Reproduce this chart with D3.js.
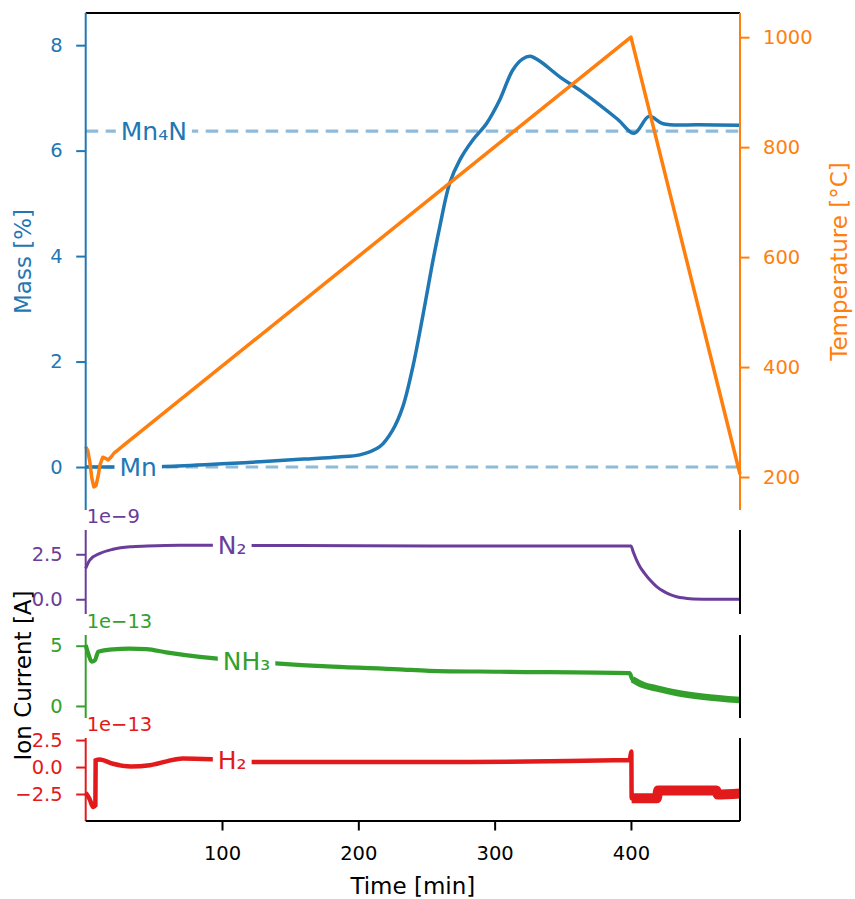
<!DOCTYPE html>
<html>
<head>
  <meta charset="utf-8">
  <title>TGA-MS Mn nitridation</title>
  <script src="https://cdn.jsdelivr.net/npm/d3@7"></script>
  <style>
    body { margin: 0; background: #fff; }
    text { font-family: "DejaVu Sans", sans-serif; }
  </style>
</head>
<body>
<script>
// ---- data ----
const timeTicks = [100, 200, 300, 400];

const massTime = [0, 30, 58, 100, 128, 160, 185, 201, 215.7, 225.2, 232.6, 240, 247.2, 253.9, 259.7, 267, 274.4, 284, 294.2, 303.7, 313.3, 320.6, 326, 333, 347.8, 365, 390, 402.3, 413.3, 423.6, 450, 480];
const massPct  = [0, 0, 0.01, 0.06, 0.10, 0.15, 0.19, 0.23, 0.385, 0.70, 1.14, 1.90, 2.85, 3.80, 4.55, 5.38, 5.82, 6.2, 6.52, 6.96, 7.53, 7.74, 7.79, 7.7, 7.4, 7.1, 6.6, 6.33, 6.65, 6.51, 6.49, 6.48];
const massTicks = [0, 2, 4, 6, 8];

const tempTime = [0, 1.5, 3, 4.5, 6, 7.5, 9, 10.5, 12.5, 14.5, 16.5, 18.5, 21, 24, 27.5, 400, 480];
const tempC    = [255, 248, 228, 198, 182, 184, 200, 222, 236, 234, 231, 236, 244, 250, 257, 1000, 205];
const tempTicks = [200, 400, 600, 800, 1000];

// reference phases (mass gain %)
const phaseNames = ["Mn\u2084N", "Mn"];
const phaseMass  = [6.37, 0];
const phaseLabelTime = [50, 38.5];

// ion currents
const n2Time = [0, 3, 10.5, 20, 32.5, 45, 69, 100, 200, 300, 399, 400, 401.6, 403.9, 406.6, 410, 414, 418.6, 423.7, 428.4, 433.5, 440, 445.7, 460, 480];
const n2Val  = [1.72, 2.18, 2.55, 2.78, 2.92, 2.96, 3.0, 3.0, 2.97, 2.96, 2.96, 2.96, 2.65, 2.22, 1.81, 1.44, 1.07, 0.72, 0.45, 0.27, 0.14, 0.06, 0.02, 0.0, 0.0];
const n2Ticks = [0, 2.5];
const n2TickLabels = ["0.0", "2.5"];

const nh3Time = [0, 1.9, 4.4, 6.8, 9.2, 20, 32, 44.5, 59, 83.6, 93, 137, 181, 230, 252, 304, 399, 401, 409, 418.6, 433, 453, 480];
const nh3Val  = [5.05, 4.33, 3.67, 3.8, 4.5, 4.7, 4.76, 4.72, 4.45, 4.08, 3.97, 3.56, 3.26, 3.04, 2.92, 2.84, 2.72, 2.21, 1.74, 1.46, 1.1, 0.77, 0.5];
const nh3Ticks = [0, 5];
const nh3TickLabels = ["0", "5"];

const h2Time = [0, 3, 5.4, 7.1, 7.3, 10.3, 20, 33, 47, 60, 71, 92.6, 123, 252, 399, 400.3, 400.5, 419, 420, 462.7, 463.6, 480];
const h2Val  = [-2.4, -3.0, -3.7, -3.56, 0.62, 0.7, 0.3, 0.05, 0.16, 0.55, 0.8, 0.72, 0.46, 0.46, 0.65, 1.45, -2.9, -2.9, -2.17, -2.17, -2.55, -2.45];
const h2Ticks = [-2.5, 0, 2.5];
const h2TickLabels = ["\u22122.5", "0.0", "2.5"];

const ionNames = ["N\u2082", "NH\u2083", "H\u2082"];
const ionOffsets = ["1e\u22129", "1e\u221213", "1e\u221213"];
const ionLabelTime = [107.5, 118, 107.5];

// ---- layout ----
const W = 855, H = 899;
const cMass = "#1f77b4", cTemp = "#ff7f0e";
const cN2 = "#6a3d9a", cNH3 = "#33a02c", cH2 = "#e31a1c";
const tickFont = 19.5, labelFont = 23, inlineFont = 25;

const svg = d3.select("body").append("svg")
  .attr("width", W).attr("height", H);

const x = d3.scaleLinear().domain([0, 480]).range([85.7, 740]);

const panels = {
  top: { y0: 13, y1: 510 },
  n2:  { y0: 530, y1: 614 },
  nh3: { y0: 635, y1: 718 },
  h2:  { y0: 738, y1: 821 }
};

const yMass = d3.scaleLinear().domain([-0.815, 8.61]).range([panels.top.y1, panels.top.y0]);
const yTemp = d3.scaleLinear().domain([140, 1044]).range([panels.top.y1, panels.top.y0]);
const yN2   = d3.scaleLinear().domain([-0.82, 3.85]).range([panels.n2.y1, panels.n2.y0]);
const yNH3  = d3.scaleLinear().domain([-1.0, 5.89]).range([panels.nh3.y1, panels.nh3.y0]);
const yH2   = d3.scaleLinear().domain([-5.0, 2.69]).range([panels.h2.y1, panels.h2.y0]);

function styleAxis(g, color) {
  g.attr("font-family", "DejaVu Sans, sans-serif").attr("font-size", tickFont);
  g.select(".domain").remove();
  g.selectAll(".tick line").attr("stroke", color).attr("stroke-width", 2);
  g.selectAll(".tick text").attr("fill", color);
}

function spine(x1, y1, x2, y2, color) {
  svg.append("line")
    .attr("x1", x1).attr("y1", y1).attr("x2", x2).attr("y2", y2)
    .attr("stroke", color).attr("stroke-width", 2);
}

function leftAxis(scale, ticks, labels, color) {
  const g = svg.append("g")
    .attr("transform", "translate(" + x.range()[0] + ",0)")
    .call(d3.axisLeft(scale).tickValues(ticks)
      .tickFormat((d, i) => labels ? labels[i] : d)
      .tickSize(9.5).tickPadding(13.5));
  styleAxis(g, color);
}

function inlineLabel(tx, ty, txt, color) {
  const g = svg.append("g");
  const t = g.append("text")
    .attr("x", tx).attr("y", ty).attr("dy", "0.35em")
    .attr("text-anchor", "middle")
    .attr("font-size", inlineFont)
    .attr("fill", color)
    .text(txt);
  const b = t.node().getBBox();
  g.insert("rect", "text")
    .attr("x", b.x - 5).attr("y", b.y + 2)
    .attr("width", b.width + 10).attr("height", b.height - 4)
    .attr("fill", "white");
}

const lineOf = (ys, curve) => d3.line()
  .x(d => x(d[0])).y(d => ys(d[1]))
  .curve(curve || d3.curveMonotoneX);

// ---- top panel: mass + temperature ----
const massData = d3.zip(massTime, massPct);
const tempData = d3.zip(tempTime, tempC);

// dashed reference lines
phaseMass.forEach(m => {
  svg.append("line")
    .attr("x1", x.range()[0]).attr("x2", x.range()[1])
    .attr("y1", yMass(m)).attr("y2", yMass(m))
    .attr("stroke", cMass).attr("stroke-opacity", 0.5)
    .attr("stroke-width", 3.2).attr("stroke-dasharray", "12.5,7.5");
});

svg.append("path").datum(massData)
  .attr("d", lineOf(yMass, d3.curveCatmullRom.alpha(0.5)))
  .attr("fill", "none").attr("stroke", cMass).attr("stroke-width", 3.5)
  .attr("stroke-linejoin", "round");

svg.append("path").datum(tempData)
  .attr("d", d3.line().x(d => x(d[0])).y(d => yTemp(d[1])))
  .attr("fill", "none").attr("stroke", cTemp).attr("stroke-width", 3.5)
  .attr("stroke-linejoin", "round");

phaseNames.forEach((n, i) => {
  inlineLabel(x(phaseLabelTime[i]), yMass(phaseMass[i]), n, cMass);
});

// spines top panel
spine(x.range()[0], panels.top.y0, x.range()[1], panels.top.y0, "#000");
spine(x.range()[0], panels.top.y0, x.range()[0], panels.top.y1, cMass);
spine(x.range()[1], panels.top.y0, x.range()[1], panels.top.y1, cTemp);

leftAxis(yMass, massTicks, null, cMass);

const gT = svg.append("g")
  .attr("transform", "translate(" + x.range()[1] + ",0)")
  .call(d3.axisRight(yTemp).tickValues(tempTicks).tickFormat(d3.format("d"))
    .tickSize(9.5).tickPadding(13.5));
styleAxis(gT, cTemp);

// ---- ion current panels ----
const ionPanels = [
  { key: "n2", y: yN2, t: n2Time, v: n2Val, ticks: n2Ticks, labels: n2TickLabels, color: cN2, w: 3, wAfter: 3 },
  { key: "nh3", y: yNH3, t: nh3Time, v: nh3Val, ticks: nh3Ticks, labels: nh3TickLabels, color: cNH3, w: 4.2, wAfter: 6.5 },
  { key: "h2", y: yH2, t: h2Time, v: h2Val, ticks: h2Ticks, labels: h2TickLabels, color: cH2, w: 4.5, wAfter: 10 }
];

ionPanels.forEach((p, i) => {
  const pan = panels[p.key];
  const data = d3.zip(p.t, p.v);
  svg.append("path").datum(data)
    .attr("d", lineOf(p.y))
    .attr("fill", "none").attr("stroke", p.color).attr("stroke-width", p.w);
  if (p.wAfter > p.w) {
    svg.append("path").datum(data.filter(d => d[0] >= 400.4))
      .attr("d", lineOf(p.y))
      .attr("fill", "none").attr("stroke", p.color).attr("stroke-width", p.wAfter);
  }
  // inline label on the curve
  const lt = ionLabelTime[i];
  const lv = d3.scaleLinear().domain(p.t).range(p.v)(lt);
  inlineLabel(x(lt), p.y(lv), ionNames[i], p.color);

  spine(x.range()[0], pan.y0, x.range()[0], pan.y1, p.color);
  spine(x.range()[1], pan.y0, x.range()[1], pan.y1, "#000");
  leftAxis(p.y, p.ticks, p.labels, p.color);

  svg.append("text")
    .attr("x", x.range()[0] + 1).attr("y", pan.y0 - 7)
    .attr("font-size", tickFont).attr("fill", p.color)
    .text(ionOffsets[i]);
});

// bottom x axis
spine(x.range()[0], panels.h2.y1, x.range()[1], panels.h2.y1, "#000");
const gX = svg.append("g")
  .attr("transform", "translate(0," + panels.h2.y1 + ")")
  .call(d3.axisBottom(x).tickValues(timeTicks).tickSize(9.5).tickPadding(16));
styleAxis(gX, "#000");

// ---- axis titles ----
const midTop = (panels.top.y0 + panels.top.y1) / 2;
const midIon = (panels.n2.y0 + panels.h2.y1) / 2;

svg.append("text")
  .attr("transform", "translate(31," + midTop + ") rotate(-90)")
  .attr("text-anchor", "middle").attr("font-size", labelFont).attr("fill", cMass)
  .text("Mass [%]");

svg.append("text")
  .attr("transform", "translate(847," + midTop + ") rotate(-90)")
  .attr("text-anchor", "middle").attr("font-size", labelFont).attr("fill", cTemp)
  .text("Temperature [°C]");

svg.append("text")
  .attr("transform", "translate(31," + midIon + ") rotate(-90)")
  .attr("text-anchor", "middle").attr("font-size", labelFont).attr("fill", "#000")
  .text("Ion Current [A]");

svg.append("text")
  .attr("x", (x.range()[0] + x.range()[1]) / 2).attr("y", 894)
  .attr("text-anchor", "middle").attr("font-size", labelFont).attr("fill", "#000")
  .text("Time [min]");
</script>
</body>
</html>
